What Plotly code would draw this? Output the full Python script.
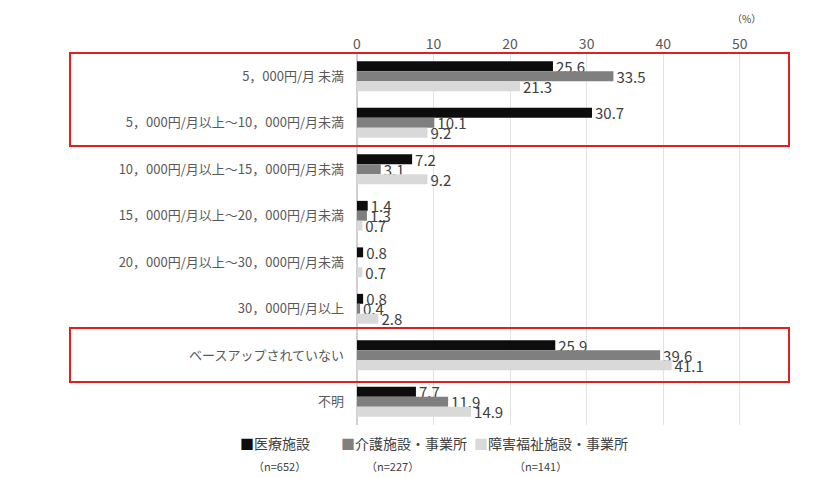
import plotly.graph_objects as go

# categories (top to bottom)
categories = [
    "5，000円/月 未満",
    "5，000円/月以上～10，000円/月未満",
    "10，000円/月以上～15，000円/月未満",
    "15，000円/月以上～20，000円/月未満",
    "20，000円/月以上～30，000円/月未満",
    "30，000円/月以上",
    "ベースアップされていない",
    "不明",
]

iryo = [25.6, 30.7, 7.2, 1.4, 0.8, 0.8, 25.9, 7.7]
kaigo = [33.5, 10.1, 3.1, 1.3, 0.0, 0.4, 39.6, 11.9]
shogai = [21.3, 9.2, 9.2, 0.7, 0.7, 2.8, 41.1, 14.9]

series_names = ["医療施設", "介護施設・事業所", "障害福祉施設・事業所"]
series_n = ["（n=652）", "（n=227）", "（n=141）"]
series_colors = ["#0d0d0d", "#7f7f7f", "#d9d9d9"]

tick_vals = [0, 10, 20, 30, 40, 50]

FONT = "Noto Sans CJK JP"

# page has an 8px body margin, so the figure is a bit smaller
W, H = 832, 470
ML, MR, MT, MB = 349, 62, 45, 53
PW = W - ML - MR
PH = H - MT - MB


def px_x(p):
    # page pixel -> paper x
    return (p - 8 - ML) / PW


def px_y(p):
    # page pixel -> paper y
    return (H - MB - (p - 8)) / PH


fig = go.Figure()
for name, vals, color in zip(series_names, [iryo, kaigo, shogai], series_colors):
    fig.add_trace(go.Bar(
        y=categories,
        x=vals,
        name=name,
        orientation="h",
        marker=dict(color=color, line=dict(width=0)),
        text=[f"{v:.1f}" if v > 0 else "" for v in vals],
        textposition="outside",
        textfont=dict(size=15, color="#404040", family=FONT),
        constraintext="none",
        cliponaxis=False,
    ))

fig.update_layout(
    width=W,
    height=H,
    margin=dict(l=ML, r=MR, t=MT, b=MB),
    paper_bgcolor="white",
    plot_bgcolor="white",
    barmode="group",
    bargap=0.36,
    bargroupgap=0,
    font=dict(family=FONT, color="#595959"),
    showlegend=False,
    xaxis=dict(
        side="top",
        range=[0, 55],
        tickvals=tick_vals,
        showgrid=True,
        gridcolor="#e3e3e3",
        zeroline=True,
        zerolinecolor="#d0d0d0",
        tickfont=dict(size=14, color="#595959"),
        ticks="",
    ),
    yaxis=dict(
        autorange="reversed",
        tickfont=dict(size=13, color="#595959"),
        ticks="",
        ticklabelstandoff=12,
        showgrid=False,
    ),
)

# (%) unit label
fig.add_annotation(text="（%）", xref="paper", yref="paper", x=px_x(746), y=px_y(18),
                   xanchor="center", yanchor="middle",
                   showarrow=False, font=dict(size=10, color="#404040"))

# legend built as text: coloured square + name, n= below
legend_x = [238, 339, 472]
n_x = [279, 392, 540]
for name, color, n, lx, nx in zip(series_names, series_colors, series_n, legend_x, n_x):
    fig.add_annotation(text=f"<span style='color:{color}'>■</span>{name}",
                       xref="paper", yref="paper", x=px_x(lx), y=px_y(443),
                       xanchor="left", yanchor="middle", showarrow=False,
                       font=dict(size=14, color="#404040"))
    fig.add_annotation(text=n, xref="paper", yref="paper",
                       x=px_x(nx), y=px_y(466), xanchor="center", yanchor="middle",
                       showarrow=False, font=dict(size=11, color="#404040"))

# red highlight boxes
for top, bottom in [(53, 146), (328, 382)]:
    fig.add_shape(type="rect", xref="paper", yref="paper",
                  x0=px_x(70), x1=px_x(789), y0=px_y(top), y1=px_y(bottom),
                  line=dict(color="#e0201e", width=2), fillcolor="rgba(0,0,0,0)")

fig.write_html("out.html")
